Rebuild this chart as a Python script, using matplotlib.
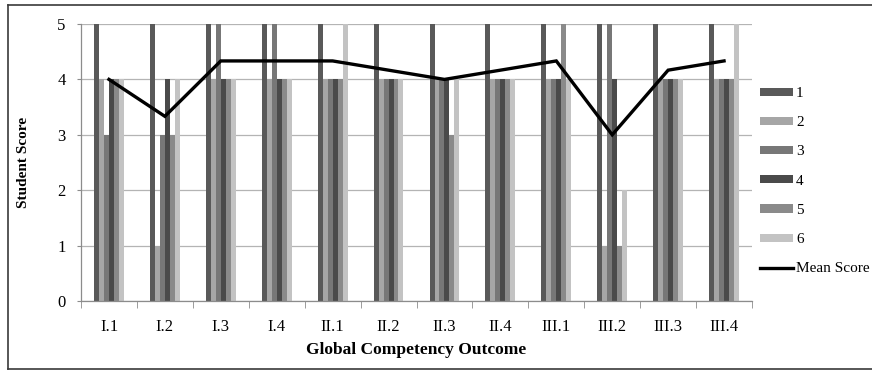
import numpy as np
import matplotlib.pyplot as plt
from matplotlib.patches import Patch
from matplotlib.lines import Line2D

plt.rcParams['font.family'] = ['Liberation Serif', 'DejaVu Serif']

# outcomes and the six student scores for each
outcomes = ['I.1', 'I.2', 'I.3', 'I.4', 'II.1', 'II.2', 'II.3', 'II.4',
            'III.1', 'III.2', 'III.3', 'III.4']
s1 = [5, 5, 5, 5, 5, 5, 5, 5, 5, 5, 5, 5]
s2 = [4, 1, 4, 4, 4, 4, 4, 4, 4, 1, 4, 4]
s3 = [3, 3, 5, 5, 4, 4, 4, 4, 4, 5, 4, 4]
s4 = [4, 4, 4, 4, 4, 4, 4, 4, 4, 4, 4, 4]
s5 = [4, 3, 4, 4, 4, 4, 3, 4, 5, 1, 4, 4]
s6 = [4, 4, 4, 4, 5, 4, 4, 4, 4, 2, 4, 5]
students = ['1', '2', '3', '4', '5', '6']

scores = np.array([s1, s2, s3, s4, s5, s6], dtype=float)
mean_score = scores.mean(axis=0)

colors = ['#595959', '#a6a6a6', '#777777', '#4a4a4a', '#8a8a8a', '#c3c3c3']

fig = plt.figure(figsize=(8.72, 3.71), dpi=100)
ax = fig.add_axes([81 / 872, 1 - 301 / 371, 671 / 872, 277 / 371])

x = np.arange(len(outcomes))
w = 0.089
for k in range(6):
    ax.bar(x + (k - 2.5) * w, scores[k], width=w, color=colors[k],
           linewidth=0, zorder=2)
ax.plot(x, mean_score, color='black', lw=2.4, zorder=3,
        solid_joinstyle='miter')

ax.set_xlim(-0.5, len(outcomes) - 0.5)
ax.set_ylim(0, 5)
ax.set_yticks(range(6))
ax.yaxis.grid(True, color='#b4b4b4', lw=0.9, zorder=0)
ax.set_axisbelow(True)

ax.set_xticks(x)
ax.set_xticklabels(outcomes, fontsize=12)
ax.set_xticks(np.arange(-0.5, len(outcomes)), minor=True)
ax.tick_params(axis='x', which='major', length=0, pad=13)
ax.tick_params(axis='x', which='minor', length=5, color='#8c8c8c')
ax.tick_params(axis='y', length=3, color='#8c8c8c', labelsize=12, pad=8)

for side in ['top', 'right']:
    ax.spines[side].set_visible(False)
for side in ['left', 'bottom']:
    ax.spines[side].set_color('#8c8c8c')
    ax.spines[side].set_linewidth(0.9)

ax.set_xlabel('Global Competency Outcome', fontsize=12.5, fontweight='bold',
              labelpad=5)
ax.set_ylabel('Student Score', fontsize=11, fontweight='bold', labelpad=20)

handles = [Patch(facecolor=c, edgecolor='none') for c in colors]
handles.append(Line2D([], [], color='black', lw=2.4))
fig.legend(handles, students + ['Mean Score'], loc='upper left',
           bbox_to_anchor=(754 / 872, 1 - 81 / 371), frameon=False,
           fontsize=11, handlelength=2.15, handleheight=0.45,
           labelspacing=1.06, handletextpad=0.2, borderaxespad=0)

# outer chart frame
frame = dict(color='#3a3a3a', lw=1.2, transform=fig.transFigure)
fig.add_artist(Line2D([8 / 872, 8 / 872], [1 - 5 / 371, 1 - 369 / 371], **frame))
fig.add_artist(Line2D([8 / 872, 1], [1 - 5 / 371, 1 - 5 / 371], **frame))
fig.add_artist(Line2D([8 / 872, 1], [1 - 369 / 371, 1 - 369 / 371], **frame))

fig.savefig('out.png', dpi=100)
